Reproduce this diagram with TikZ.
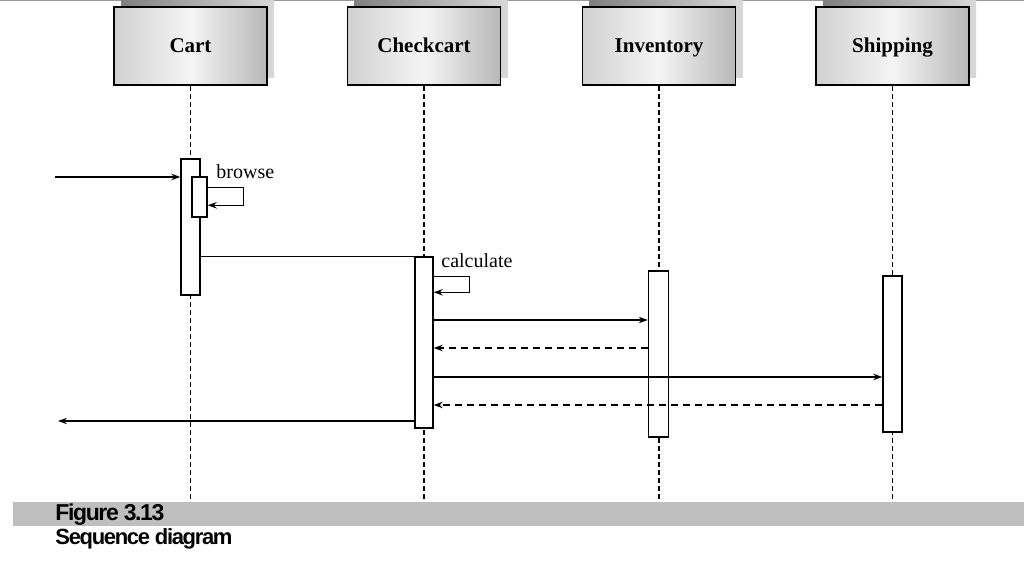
\documentclass[tikz,border=0pt]{standalone}
\usepackage{fontspec}
\setmainfont{Liberation Serif}
\newfontfamily\capfont[LetterSpace=-6]{Liberation Sans}
\usetikzlibrary{arrows.meta}
\tikzset{>={Stealth[length=4.5pt,width=3.2pt]}}
\colorlet{mygray}{black!25}
\colorlet{myshadow}{black!45}
\tikzstyle{lifebox}=[draw,line width=0.8,minimum width=76.5pt,minimum height=39pt,
                     left color=black!18,right color=black!28,middle color=black!4,
                     text height=8pt,text depth=1pt,
                     font=\fontsize{10.5}{12}\selectfont\bfseries]
\tikzstyle{shadowbox}=[minimum width=76.5pt,minimum height=39pt,
                       left color=black!50,right color=black!15]
\tikzstyle{lifeline}=[line width=0.6,dash pattern=on 2.5pt off 1.5pt]
\tikzstyle{activation}=[draw,fill=white,line width=0.7,minimum width=9.5pt,inner sep=0]
\tikzstyle{msg}=[->,line width=0.6]
\tikzstyle{reply}=[->,line width=0.6,dash pattern=on 3.5pt off 2.5pt]
\tikzstyle{msglabel}=[anchor=west,inner sep=0,font=\fontsize{10}{12}\selectfont]
\tikzstyle{caption}=[anchor=west,inner sep=0,font=\capfont\fontsize{11}{12}\selectfont\bfseries]

\begin{document}
\begin{tikzpicture}[x=0.5pt,y=-0.5pt]
  \useasboundingbox (0,0) rectangle (1024,576);
  \draw[black!40,line width=1] (0,0.5) -- (1024,0.5); % top rule

  % OBJECT BOXES
  \foreach \name/\x/\txt in {cart/190.5/Cart,checkcart/424/Checkcart,
                             inventory/659/Inventory,shipping/892.5/Shipping}{
    \node[shadowbox] at (\x+7,39) {};
    \node[lifebox] (\name) at (\x,46) {\txt};
  }

  % LIFELINES
  \foreach \name in {cart,checkcart,inventory,shipping}{
    \coordinate (\name end) at (\name.south |- 0,500);
    \draw[lifeline] (\name.south) -- (\name end);
  }

  % ACTIVATIONS
  \node[activation,minimum height=68pt] (cartact) at (190.5,227) {};
  \node[activation,minimum width=7.5pt,minimum height=20pt] (browseact) at (199.5,197) {};
  \node[activation,minimum width=9pt,minimum height=85.5pt] (checkact) at (424,342.5) {};
  \node[activation,minimum width=10pt,minimum height=83pt] (invact) at (658.5,354) {};
  \node[activation,minimum height=78pt] (shipact) at (892.5,354) {};

  % MESSAGES
  \coordinate (in)  at (55,177); % incoming call
  \coordinate (out) at (58,421); % outgoing return
  \coordinate (m1) at (0,320);
  \coordinate (m2) at (0,348);
  \coordinate (m3) at (0,377);
  \coordinate (m4) at (0,405);
  \draw[msg] (in) -- (cartact.west |- in);
  \draw[msg] ([yshift=-5.5pt]browseact.north east) -- ++(36,0)
    |- ([yshift=-14.5pt]browseact.north east);
  \node[msglabel] (browse) at (216,172) {browse};
  \draw[line width=0.6] (cartact.east |- checkact.north) -- (checkact.north west);
  \draw[msg] ([yshift=-10pt]checkact.north east) -- ++(36,0)
    |- ([yshift=-18pt]checkact.north east);
  \node[msglabel] (calculate) at (441,261) {calculate};
  \draw[msg]   (checkact.east |- m1) -- (invact.west |- m1);
  \draw[reply] (invact.west |- m2) -- (checkact.east |- m2);
  \draw[msg]   (checkact.east |- m3) -- (shipact.west |- m3);
  \draw[reply] (shipact.west |- m4) -- (checkact.east |- m4);
  \draw[msg]   (checkact.west |- out) -- (out);

  % CAPTION
  \fill[mygray] (13,502) rectangle (1024,526);
  \node[caption] (fig) at (55,515) {\fontsize{11.5}{12}\selectfont Figure 3.13};
  \node[caption] (title) at (55,539) {Sequence diagram};
\end{tikzpicture}
\end{document}
